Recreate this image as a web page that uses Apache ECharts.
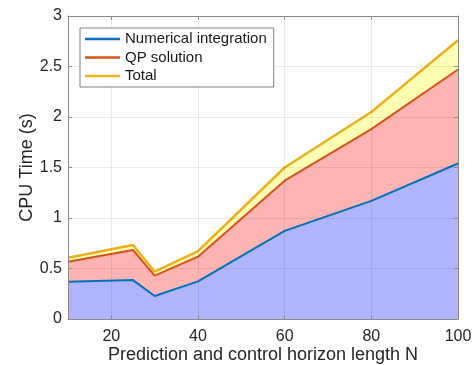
<!DOCTYPE html>
<html>
<head>
<meta charset="utf-8">
<script src="https://cdn.jsdelivr.net/npm/echarts@6/dist/echarts.min.js"></script>
<style>
html,body{margin:0;padding:0;background:#fff;}
#chart{width:476px;height:365px;}
</style>
</head>
<body>
<div id="chart"></div>
<script>
// Horizon length N
const horizonN = [10, 25, 30, 40, 60, 80, 100];
// CPU time components (s)
const numericalIntegration = [0.370, 0.385, 0.228, 0.373, 0.872, 1.170, 1.540];
const qpSolution = [0.197, 0.298, 0.202, 0.244, 0.498, 0.710, 0.930];
const totalTime = [0.607, 0.733, 0.468, 0.673, 1.500, 2.050, 2.760];
const xTicks = [20, 40, 60, 80, 100];
const seriesNames = ['Numerical integration', 'QP solution', 'Total'];

const numData = horizonN.map((n, i) => [n, numericalIntegration[i]]);
const qpData = horizonN.map((n, i) => [n, +(numericalIntegration[i] + qpSolution[i]).toFixed(3)]);
const totData = horizonN.map((n, i) => [n, totalTime[i]]);

const axisColor = '#8a8a8a';
const textColor = '#262626';
const font = 'Liberation Sans, Arial, sans-serif';

const chart = echarts.init(document.getElementById('chart'), null, {renderer: 'canvas'});
chart.setOption({
  animation: false,
  backgroundColor: '#ffffff',
  grid: {left: 68, right: 18, top: 16, bottom: 46, containLabel: false, outerBoundsMode: 'none'},
  legend: {
    orient: 'vertical',
    left: 80, top: 28,
    data: seriesNames,
    icon: 'rect',
    itemWidth: 35, itemHeight: 2.5,
    itemGap: 3.5,
    padding: [3.5, 7, 3.5, 5],
    borderColor: '#808080', borderWidth: 1,
    backgroundColor: '#ffffff',
    textStyle: {fontFamily: font, fontSize: 15, color: '#1a1a1a'},
    z: 10
  },
  xAxis: [{
    type: 'value', min: 10, max: 100, position: 'bottom', z: 3,
    name: 'Prediction and control horizon length N',
    nameLocation: 'middle', nameGap: 27, nameMoveOverlap: false,
    nameTextStyle: {fontFamily: font, fontSize: 18, color: textColor},
    axisLine: {show: true, onZero: false, lineStyle: {color: axisColor, width: 1}},
    axisTick: {show: true, inside: true, length: 4, customValues: xTicks, lineStyle: {color: axisColor}},
    axisLabel: {customValues: xTicks, margin: 10, fontFamily: font, fontSize: 16, color: textColor},
    splitLine: {show: true, lineStyle: {color: 'rgba(0,0,0,0.08)', width: 1}}
  }, {
    type: 'value', min: 10, max: 100, position: 'top', z: 3,
    axisLine: {show: true, onZero: false, lineStyle: {color: axisColor, width: 1}},
    axisTick: {show: true, inside: true, length: 4, customValues: xTicks, lineStyle: {color: axisColor}},
    axisLabel: {show: false},
    splitLine: {show: false}
  }],
  yAxis: [{
    type: 'value', min: 0, max: 3, interval: 0.5, position: 'left', z: 3,
    name: 'CPU Time (s)',
    nameLocation: 'middle', nameGap: 32, nameMoveOverlap: false,
    nameTextStyle: {fontFamily: font, fontSize: 18, color: textColor},
    axisLine: {show: true, onZero: false, lineStyle: {color: axisColor, width: 1}},
    axisTick: {show: true, inside: true, length: 4, lineStyle: {color: axisColor}},
    axisLabel: {margin: 6, fontFamily: font, fontSize: 16, color: textColor,
      formatter: v => String(+v.toFixed(1))},
    splitLine: {show: true, lineStyle: {color: 'rgba(0,0,0,0.08)', width: 1}}
  }, {
    type: 'value', min: 0, max: 3, interval: 0.5, position: 'right', z: 3,
    axisLine: {show: true, onZero: false, lineStyle: {color: axisColor, width: 1}},
    axisTick: {show: true, inside: true, length: 4, lineStyle: {color: axisColor}},
    axisLabel: {show: false},
    splitLine: {show: false}
  }],
  series: [{
    name: 'Total', type: 'line', data: totData, symbol: 'none',
    xAxisIndex: 0, yAxisIndex: 0, z: 2,
    itemStyle: {color: '#EDB120'},
    lineStyle: {color: '#EDB120', width: 2.5},
    areaStyle: {color: '#ffffb4', opacity: 1}
  }, {
    name: 'QP solution', type: 'line', data: qpData, symbol: 'none',
    xAxisIndex: 0, yAxisIndex: 0, z: 2,
    itemStyle: {color: '#D95319'},
    lineStyle: {color: '#D95319', width: 2},
    areaStyle: {color: '#ffb4b4', opacity: 1}
  }, {
    name: 'Numerical integration', type: 'line', data: numData, symbol: 'none',
    xAxisIndex: 0, yAxisIndex: 0, z: 2,
    itemStyle: {color: '#0072BD'},
    lineStyle: {color: '#0072BD', width: 2},
    areaStyle: {color: '#b0b4fb', opacity: 1}
  }]
});
</script>
</body>
</html>
